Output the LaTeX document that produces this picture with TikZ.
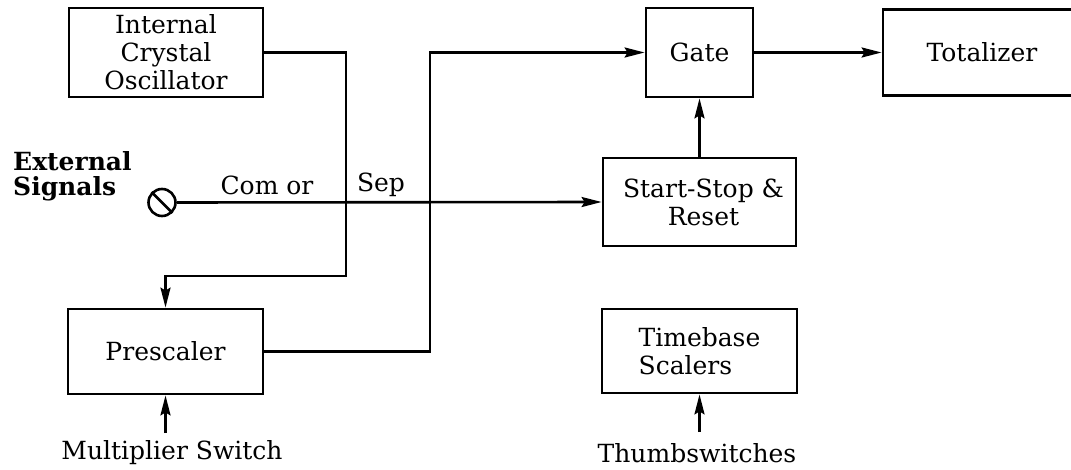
\documentclass[tikz,border=0pt]{standalone}
\usepackage{fontspec}
\setmainfont{DejaVu Serif}
\usetikzlibrary{arrows.meta}
\begin{document}
\begin{tikzpicture}[x=1pt,y=-1pt,
  blk/.style={draw,line width=2.8pt,rectangle,inner sep=0pt,font=\fontsize{25}{28}\selectfont,align=center},
  lbl/.style={inner sep=0pt,font=\fontsize{25}{25}\selectfont},
  wire/.style={line width=2.6pt},
  arr/.style={wire,-{Stealth[length=20pt,width=10pt,inset=3pt]}}]
\useasboundingbox (0,0) rectangle (1071,470);
% blocks
\node[blk,minimum width=194pt,minimum height=89pt] (osc) at (166,52.5) {Internal\\Crystal\\Oscillator};
\node[blk,minimum width=195pt,minimum height=85pt] (pre) at (165.5,351.5) {Prescaler};
\node[blk,minimum width=107pt,minimum height=89pt] (gate) at (699.5,52.5) {Gate};
\node[blk,minimum width=202pt,minimum height=86pt] (tot) at (984,52.5) {Totalizer\hspace{4pt}};
\node[blk,minimum width=193pt,minimum height=88pt] (ss) at (699.5,202) {\hspace{8pt}Start-Stop \&\\\hspace{8pt}Reset};
\node[blk,minimum width=195pt,minimum height=84pt,align=left] (tb) at (699.5,351) {Timebase\\Scalers};
% input terminal
\node[draw,circle,line width=2.6pt,minimum size=27pt,inner sep=0pt] (ext) at (162,202.5) {};
\draw[wire] (ext.135) -- (ext.-45);
% labels
\node[lbl,anchor=west,align=left,font=\fontsize{25}{25}\bfseries] (extl) at (13,176) {External\\Signals};
\node[lbl] (com) at (267,185) {Com or};
\node[lbl] (sep) at (381,185) {Sep};
\node[lbl] (mult) at (172,453) {Multiplier Switch};
\node[lbl] (thumb) at (697,453) {Thumbswitches};
% junction coordinates
\coordinate (j1) at (346,276);
\coordinate (j2) at (430,200);
\coordinate (m1) at (165.5,433);
\coordinate (t1) at (699.5,432);
% connectors
\draw[arr] (osc.east) -| (j1) -| (pre.north);
\draw[arr] (pre.east) -| (j2) |- (gate.west);
\draw[arr] (ext.east) -- (ss.west);
\draw[arr] (ss.north) -- (gate.south);
\draw[arr] (gate.east) -- (tot.west);
\draw[arr] (m1) -- (pre.south);
\draw[arr] (t1) -- (tb.south);
\end{tikzpicture}
\end{document}
